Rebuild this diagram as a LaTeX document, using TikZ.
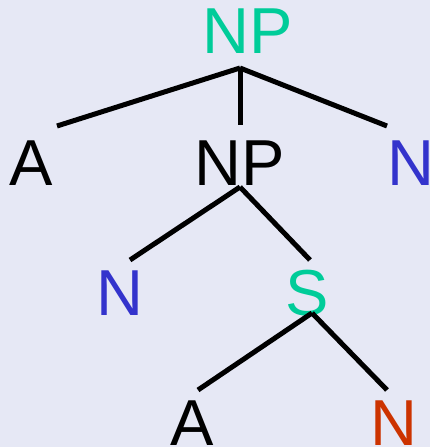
\documentclass[tikz,border=0pt]{standalone}
\usepackage{fontspec}
\setmainfont{Liberation Sans}
\definecolor{bg}{HTML}{E6E8F5}
\definecolor{teal}{HTML}{00CC99}
\definecolor{blu}{HTML}{3333CC}
\definecolor{rd}{HTML}{CC3300}
\begin{document}
\begin{tikzpicture}[x=1pt,y=-1pt,
  lab/.style={inner sep=0pt,font=\fontsize{65}{65}\selectfont},
  edge/.style={line width=5pt}]
\fill[bg] (0,0) rectangle (430,447);
\useasboundingbox (0,0) rectangle (430,447);
\node[lab,text=teal] (np1) at (248,31) {NP};
\node[lab] (a1) at (31,163) {A};
\node[lab] (np2) at (240,163) {NP};
\node[lab,text=blu] (n1) at (411,163) {N};
\node[lab,text=blu] (n2) at (120,293) {N};
\node[lab,text=teal] (s) at (307,293) {S};
\node[lab] (a2) at (192,423) {A};
\node[lab,text=rd] (n3) at (394,423) {N};
\coordinate (np1b) at (240,68);
\coordinate (a1t) at (57,126);
\coordinate (np2t) at (240,125);
\coordinate (n1t) at (387,126);
\coordinate (np2b) at (240,187);
\coordinate (n2t) at (130,260);
\coordinate (st) at (310,260);
\coordinate (sb) at (312,313);
\coordinate (a2t) at (198,390);
\coordinate (n3t) at (387,390);
\draw[edge] (np1b) -- (a1t);
\draw[edge] (np1b) -- (np2t);
\draw[edge] (np1b) -- (n1t);
\draw[edge] (np2b) -- (n2t);
\draw[edge] (np2b) -- (st);
\draw[edge] (sb) -- (a2t);
\draw[edge] (sb) -- (n3t);
\end{tikzpicture}
\end{document}
